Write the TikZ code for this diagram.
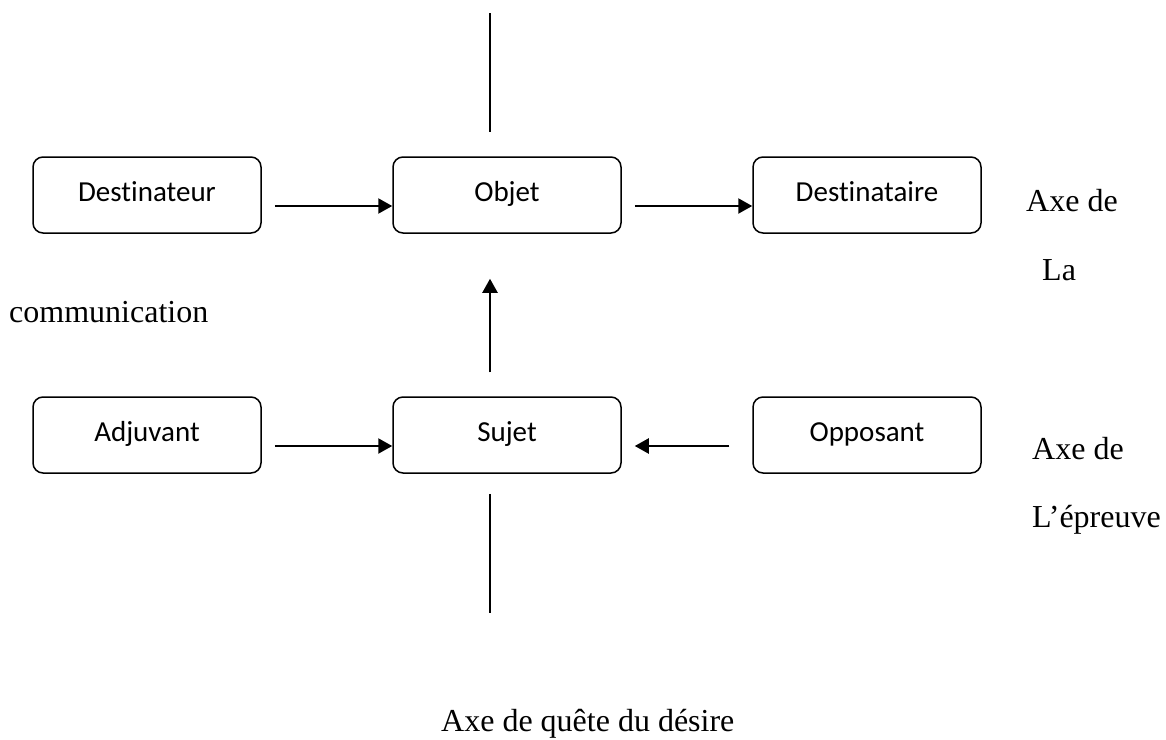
\documentclass[tikz,border=0pt]{standalone}
\usepackage{fontspec}
\setmainfont{Liberation Serif}
\newfontfamily\boxfont[Ligatures=NoCommon]{Carlito}
\usetikzlibrary{arrows.meta,calc}
\begin{document}
\begin{tikzpicture}[x=1pt,y=-1pt,
  box/.style={draw,line width=1.5pt,rounded corners=10pt,minimum width=228pt,minimum height=76pt,inner sep=0pt,
    font=\boxfont\fontsize{29}{34}\selectfont,text height=20pt,text depth=8pt},
  conn/.style={line width=2.2pt,-{Triangle[length=14pt,width=15pt]}},
  axisline/.style={line width=1.6pt},
  lbl/.style={anchor=base west,inner sep=0pt,font=\fontsize{32}{37}\selectfont}]
\useasboundingbox (0,0) rectangle (1166,739);
% boxes
\node[box] (dest) at (147,195) {Destinateur};
\node[box] (obj)  at (507,195) {Objet};
\node[box] (dstn) at (867,195) {Destinataire};
\node[box] (adj)  at (147,435) {Adjuvant};
\node[box] (suj)  at (507,435) {Sujet};
\node[box] (opp)  at (867,435) {Opposant};
% arrows
\draw[conn] ($(dest.east)+(13,11)$) -- ($(obj.west)+(0,11)$);
\draw[conn] ($(obj.east)+(13,11)$) -- ($(dstn.west)+(0,11)$);
\draw[conn] ($(adj.east)+(13,11)$) -- ($(suj.west)+(0,11)$);
\draw[conn] ($(opp.west)+(-23,11)$) -- ($(suj.east)+(13,11)$);
\draw[conn] ($(suj.north)+(-17,-24)$) -- ($(obj.south)+(-17,45)$);
% axis lines
\coordinate (topend) at (490,13);
\coordinate (botend) at (490,613);
\draw[axisline] (topend) -- ($(obj.north)+(-17,-24)$);
\draw[axisline] ($(suj.south)+(-17,20)$) -- (botend);
% labels
\node[lbl] (axe1) at (1026,211) {Axe de};
\node[lbl] (la) at (1042,280) {La};
\node[lbl] (comm) at (9,322) {communication};
\node[lbl] (axe2) at (1032,459) {Axe de};
\node[lbl] (epr) at (1032,527) {L’épreuve};
\node[lbl] (quete) at (441,731) {Axe de quête du désire};
\end{tikzpicture}
\end{document}
